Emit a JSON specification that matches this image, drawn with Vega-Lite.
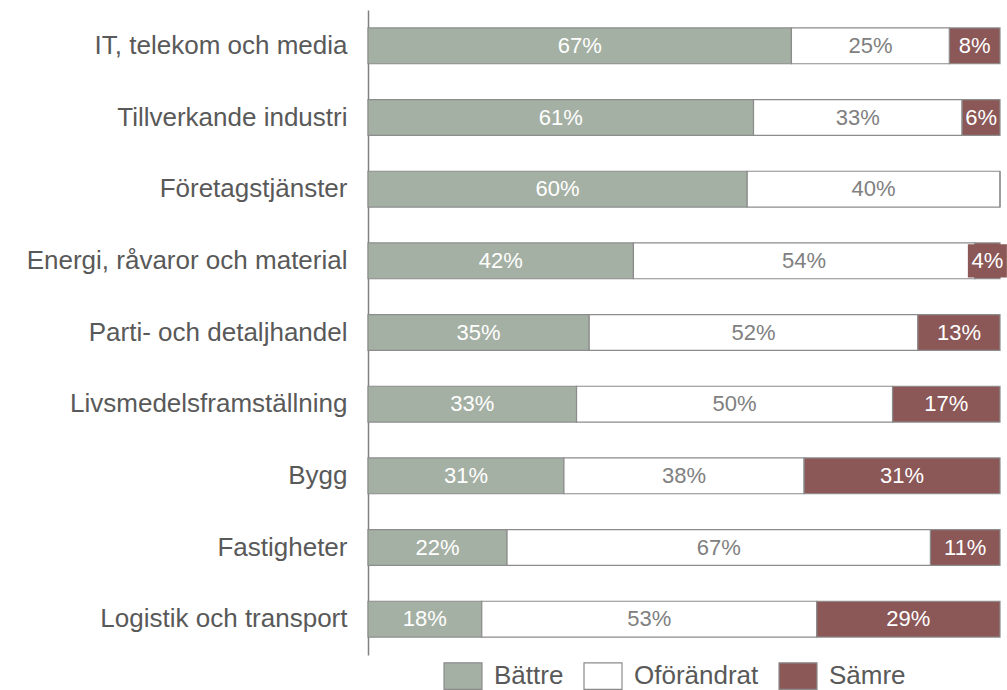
{
  "$schema": "https://vega.github.io/schema/vega-lite/v6.json",
  "autosize": {"type": "none"},
  "width": 632,
  "height": 645,
  "padding": {"left": 368, "top": 10, "right": 7, "bottom": 35},
  "background": "white",
  "config": {"view": {"stroke": null}, "font": "Liberation Sans"},
  "data": {
    "values": [
      {"cat": "IT, telekom och media", "status": "Bättre", "o": 1, "v": 67},
      {"cat": "IT, telekom och media", "status": "Oförändrat", "o": 2, "v": 25},
      {"cat": "IT, telekom och media", "status": "Sämre", "o": 3, "v": 8},
      {"cat": "Tillverkande industri", "status": "Bättre", "o": 1, "v": 61},
      {"cat": "Tillverkande industri", "status": "Oförändrat", "o": 2, "v": 33},
      {"cat": "Tillverkande industri", "status": "Sämre", "o": 3, "v": 6},
      {"cat": "Företagstjänster", "status": "Bättre", "o": 1, "v": 60},
      {"cat": "Företagstjänster", "status": "Oförändrat", "o": 2, "v": 40},
      {"cat": "Företagstjänster", "status": "Sämre", "o": 3, "v": 0},
      {"cat": "Energi, råvaror och material", "status": "Bättre", "o": 1, "v": 42},
      {"cat": "Energi, råvaror och material", "status": "Oförändrat", "o": 2, "v": 54},
      {"cat": "Energi, råvaror och material", "status": "Sämre", "o": 3, "v": 4},
      {"cat": "Parti- och detaljhandel", "status": "Bättre", "o": 1, "v": 35},
      {"cat": "Parti- och detaljhandel", "status": "Oförändrat", "o": 2, "v": 52},
      {"cat": "Parti- och detaljhandel", "status": "Sämre", "o": 3, "v": 13},
      {"cat": "Livsmedelsframställning", "status": "Bättre", "o": 1, "v": 33},
      {"cat": "Livsmedelsframställning", "status": "Oförändrat", "o": 2, "v": 50},
      {"cat": "Livsmedelsframställning", "status": "Sämre", "o": 3, "v": 17},
      {"cat": "Bygg", "status": "Bättre", "o": 1, "v": 31},
      {"cat": "Bygg", "status": "Oförändrat", "o": 2, "v": 38},
      {"cat": "Bygg", "status": "Sämre", "o": 3, "v": 31},
      {"cat": "Fastigheter", "status": "Bättre", "o": 1, "v": 22},
      {"cat": "Fastigheter", "status": "Oförändrat", "o": 2, "v": 67},
      {"cat": "Fastigheter", "status": "Sämre", "o": 3, "v": 11},
      {"cat": "Logistik och transport", "status": "Bättre", "o": 1, "v": 18},
      {"cat": "Logistik och transport", "status": "Oförändrat", "o": 2, "v": 53},
      {"cat": "Logistik och transport", "status": "Sämre", "o": 3, "v": 29}
    ]
  },
  "transform": [
    {"stack": "v", "groupby": ["cat"], "sort": [{"field": "o", "order": "ascending"}], "as": ["x0", "x1"]},
    {"calculate": "(datum.x0 + datum.x1) / 2", "as": "mid"},
    {"calculate": "datum.v + '%'", "as": "lab"}
  ],
  "encoding": {
    "y": {
      "field": "cat", "type": "nominal", "sort": null,
      "scale": {"paddingInner": 0.5, "paddingOuter": 0.25},
      "axis": {
        "title": null, "ticks": false, "labelFontSize": 26, "labelColor": "#595959",
        "labelPadding": 21, "domainColor": "#808080", "domainWidth": 1.5, "labelLimit": 400
      }
    }
  },
  "layer": [
    {
      "mark": {"type": "bar", "stroke": "#8c8c8c", "strokeWidth": 1.2},
      "encoding": {
        "x": {"field": "x0", "type": "quantitative", "scale": {"domain": [0, 100], "nice": false}, "axis": null},
        "x2": {"field": "x1"},
        "color": {
          "field": "status", "type": "nominal",
          "scale": {"domain": ["Bättre", "Oförändrat", "Sämre"], "range": ["#a5b0a4", "#ffffff", "#8b5757"]},
          "legend": {
            "title": null, "orient": "none", "direction": "horizontal",
            "legendX": 75, "legendY": 646,
            "symbolType": "M-1,-0.7H1V0.7H-1Z", "symbolSize": 1444,
            "symbolStrokeColor": "#8c8c8c", "symbolStrokeWidth": 1.2,
            "labelFontSize": 26, "labelColor": "#595959", "labelOffset": 11,
            "columnPadding": 17, "symbolOpacity": 1
          }
        }
      }
    },
    {
      "transform": [{"filter": "datum.status === 'Sämre' && datum.v > 0 && datum.v < 5"}],
      "mark": {"type": "point", "shape": "M-1,-0.85H1V0.85H-1Z", "filled": true, "opacity": 1, "color": "#8b5757", "size": 1521},
      "encoding": {
        "x": {"field": "mid", "type": "quantitative"}
      }
    },
    {
      "transform": [{"filter": "datum.v > 0"}],
      "mark": {"type": "text", "fontSize": 22, "align": "center", "baseline": "middle"},
      "encoding": {
        "x": {"field": "mid", "type": "quantitative"},
        "text": {"field": "lab", "type": "nominal"},
        "color": {"condition": {"test": "datum.status === 'Oförändrat'", "value": "#808080"}, "value": "#ffffff"}
      }
    }
  ]
}
